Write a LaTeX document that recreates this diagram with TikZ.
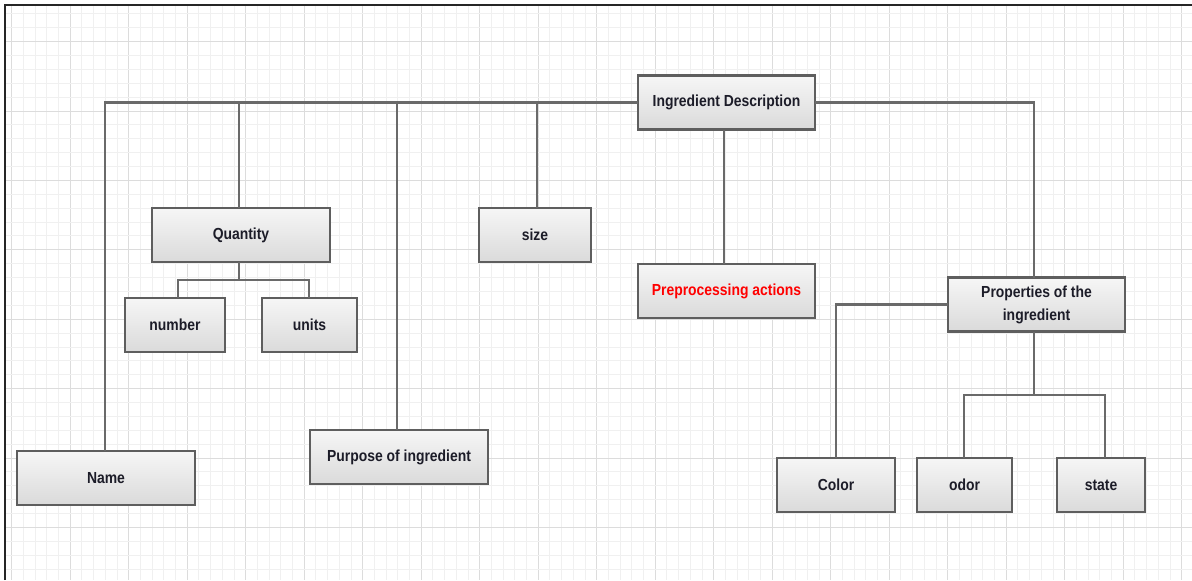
\documentclass[tikz,border=0pt]{standalone}
\usepackage{fontspec}
\setmainfont{Liberation Sans}[FakeStretch=0.87]
\begin{document}
\begin{tikzpicture}[x=0.5pt,y=-0.5pt,
  box/.style={draw=boxline, line width=1.1pt, top color=boxtop, bottom color=boxbot,
    minimum height=27pt, inner sep=0pt, outer sep=0pt, text=txt,
    font=\bfseries\fontsize{8}{11.5}\selectfont, align=center},
  conn/.style={draw=connline, line width=1.2pt}]
\definecolor{boxline}{HTML}{5E5E5E}
\definecolor{connline}{HTML}{6A6A6A}
\definecolor{boxtop}{HTML}{F6F6F6}
\definecolor{boxbot}{HTML}{DADADA}
\definecolor{txt}{HTML}{1C1C28}
\definecolor{gminor}{HTML}{F0F0F0}
\definecolor{gmajor}{HTML}{DCDCDC}
\useasboundingbox (0,0) rectangle (1192,580);
\fill[white] (0,0) rectangle (1192,580);
% grid
\foreach \k in {1,...,101} {
  \pgfmathsetmacro{\xx}{11.7*\k}
  \pgfmathtruncatemacro{\mm}{mod(\k-1,5)}
  \ifnum\mm=0
    \draw[gmajor, line width=0.5pt] (\xx,5) -- (\xx,580);
  \else
    \draw[gminor, line width=0.5pt] (\xx,5) -- (\xx,580);
  \fi
}
\foreach \k in {1,...,41} {
  \pgfmathsetmacro{\yy}{13.88*\k}
  \pgfmathtruncatemacro{\mm}{mod(\k-3,5)}
  \ifnum\mm=0
    \draw[gmajor, line width=0.5pt] (5,\yy) -- (1192,\yy);
  \else
    \draw[gminor, line width=0.5pt] (5,\yy) -- (1192,\yy);
  \fi
}
\draw[black!85, line width=0.8pt] (5,580) -- (5,5) -- (1192,5);

% nodes
\node[box, minimum width=88.5pt] (ing) at (726.5,102.5) {Ingredient Description};
\node[box, minimum width=89pt] (qty) at (241,235) {Quantity};
\node[box, minimum width=56pt] (size) at (535,235) {size};
\node[box, minimum width=88.5pt, text=red] (pre) at (726.5,291) {Preprocessing actions};
\node[box, minimum width=88.5pt] (prop) at (1036.5,304.5) {Properties of the\\ingredient};
\node[box, minimum width=50pt] (num) at (175,325) {number};
\node[box, minimum width=47.5pt] (units) at (309.5,325) {units};
\node[box, minimum width=89pt] (name) at (106,478) {Name};
\node[box, minimum width=89pt] (purp) at (399,457) {Purpose of ingredient};
\node[box, minimum width=59pt] (color) at (836,485) {Color};
\node[box, minimum width=47.5pt] (odor) at (964.5,485) {odor};
\node[box, minimum width=44pt] (state) at (1101,485) {state};

% connectors
\coordinate (qj) at (239,280);
\coordinate (pj) at (1034,395);
\begin{scope}[on background layer/.style={}]
\draw[conn] (ing.west) -| ([xshift=-0.5pt]name.north);
\draw[conn] ([xshift=-1pt]qty.north) -- ([xshift=-1pt]qty.north |- ing.west);
\draw[conn] ([xshift=-1pt]purp.north) -- ([xshift=-1pt]purp.north |- ing.west);
\draw[conn] ([xshift=1pt]size.north) -- ([xshift=1pt]size.north |- ing.west);
\draw[conn] (ing.east) -| ([xshift=-1.25pt]prop.north);
\draw[conn] ([xshift=-1.25pt]ing.south) -- ([xshift=-1.25pt]pre.north);
\draw[conn] (qty.south -| qj) -- (qj);
\draw[conn] ([xshift=1.5pt]num.north) |- (qj) -| ([xshift=-0.25pt]units.north);
\draw[conn] (prop.west) -| (color.north);
\draw[conn] (prop.south -| pj) -- (pj);
\draw[conn] ([xshift=-0.25pt]odor.north) |- (pj) -| ([xshift=2pt]state.north);
\end{scope}
\end{tikzpicture}
\end{document}
